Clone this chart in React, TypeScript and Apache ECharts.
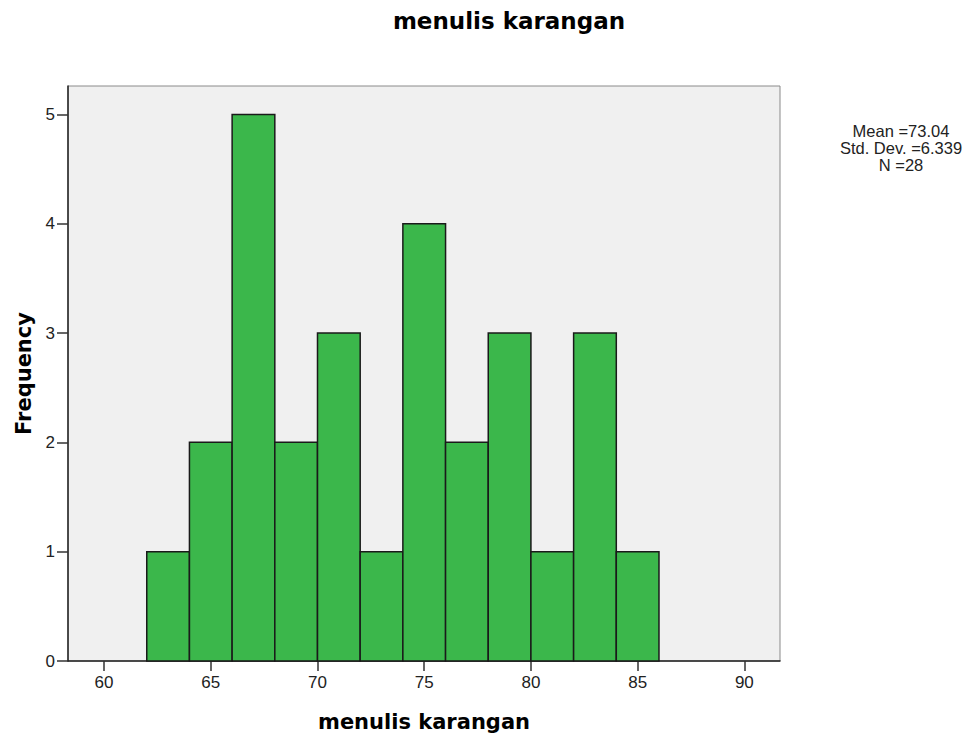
import React, { useEffect, useRef } from "react";
import * as echarts from "echarts";

const binStarts = [62, 64, 66, 68, 70, 72, 74, 76, 78, 80, 82, 84];
const binWidth = 2;
const frequencies = [1, 2, 5, 2, 3, 1, 4, 2, 3, 1, 3, 1];
const xTicks = [60, 65, 70, 75, 80, 85, 90];
const yTicks = [0, 1, 2, 3, 4, 5];
const titleText = "menulis karangan";
const statsLines = ["Mean =73.04", "Std. Dev. =6.339", "N =28"];

export default function App() {
  const ref = useRef<HTMLDivElement>(null);
  useEffect(() => {
    if (!ref.current) return;
    const chart = echarts.init(ref.current, null, { renderer: "svg" });
    const data = binStarts.map((s, i) => [s, s + binWidth, frequencies[i]]);
    const statsGraphics = statsLines.map((line, i) => ({
      type: "text",
      x: 901,
      y: 122 + i * 17.2,
      style: {
        text: line,
        fontFamily: "Liberation Sans",
        fontSize: 16.5,
        fill: "#222",
        textAlign: "center",
        textVerticalAlign: "top",
      },
    }));
    chart.setOption({
      animation: false,
      backgroundColor: "#ffffff",
      grid: {
        left: 68,
        right: 196,
        top: 86,
        bottom: 77,
        show: true,
        backgroundColor: "#f0f0f0",
        borderColor: "#8a8a8a",
        borderWidth: 1,
      },
      xAxis: {
        type: "value",
        min: 58.31,
        max: 91.67,
        name: titleText,
        nameLocation: "middle",
        nameGap: 50,
        nameTextStyle: {
          fontFamily: "DejaVu Sans",
          fontWeight: "bold",
          fontSize: 21,
          color: "#000",
        },
        axisLine: { show: true, lineStyle: { color: "#222", width: 1.5 } },
        axisTick: {
          show: true,
          length: 10,
          customValues: xTicks,
          lineStyle: { color: "#333", width: 1.5 },
        },
        axisLabel: {
          customValues: xTicks,
          fontFamily: "Liberation Sans",
          fontSize: 17,
          color: "#222",
          margin: 13,
        },
        splitLine: { show: false },
      },
      yAxis: {
        type: "value",
        min: 0,
        max: 5.26,
        name: "Frequency",
        nameLocation: "middle",
        nameGap: 32,
        nameTextStyle: {
          fontFamily: "DejaVu Sans",
          fontWeight: "bold",
          fontSize: 21,
          color: "#000",
        },
        axisLine: { show: true, lineStyle: { color: "#222", width: 1.5 } },
        axisTick: {
          show: true,
          length: 11,
          customValues: yTicks,
          lineStyle: { color: "#333", width: 1.5 },
        },
        axisLabel: {
          customValues: yTicks,
          fontFamily: "Liberation Sans",
          fontSize: 17,
          color: "#222",
          margin: 13,
        },
        splitLine: { show: false },
      },
      graphic: [
        {
          type: "text",
          x: 509,
          y: 21,
          style: {
            text: titleText,
            fontFamily: "DejaVu Sans",
            fontWeight: "bold",
            fontSize: 23,
            fill: "#000",
            textAlign: "center",
            textVerticalAlign: "middle",
          },
        },
        ...statsGraphics,
      ],
      series: [
        {
          type: "custom",
          data,
          encode: { x: [0, 1], y: 2 },
          renderItem: (params: any, api: any) => {
            const s = api.value(0);
            const e = api.value(1);
            const c = api.value(2);
            const p0 = api.coord([s, c]);
            const p1 = api.coord([e, 0]);
            return {
              type: "rect",
              shape: { x: p0[0], y: p0[1], width: p1[0] - p0[0], height: p1[1] - p0[1] },
              style: { fill: "#3bb74b", stroke: "#1a1a1a", lineWidth: 1.5 },
            };
          },
        },
      ],
    });
    return () => chart.dispose();
  }, []);
  return (
    <div
      ref={ref}
      style={{ position: "absolute", left: 0, top: 0, width: 976, height: 738 }}
    />
  );
}
